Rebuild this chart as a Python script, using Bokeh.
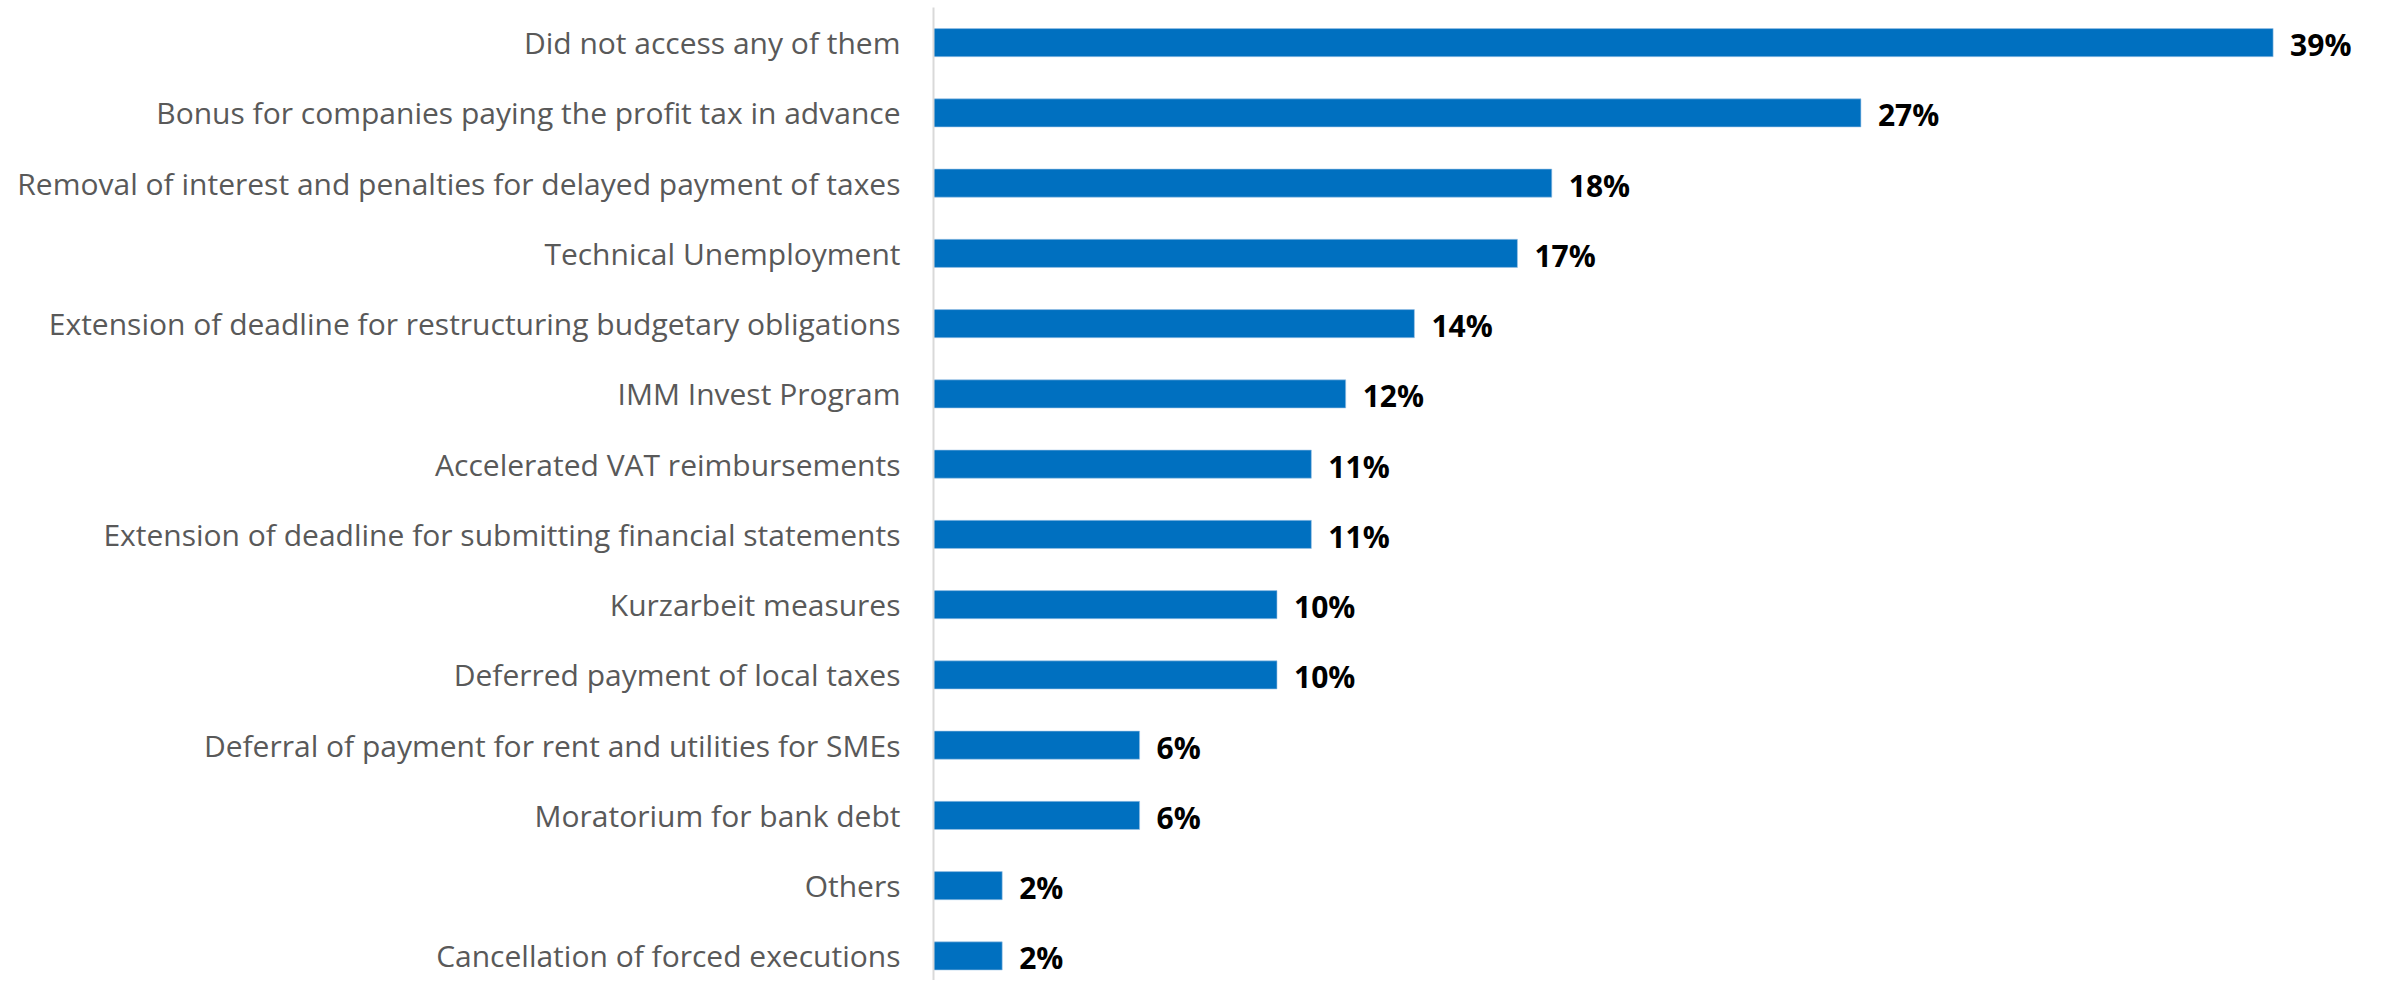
from bokeh.plotting import figure
from bokeh.models import Range1d, FixedTicker, ColumnDataSource
from bokeh.core.properties import value
from bokeh.embed import file_html
from bokeh.resources import INLINE

categories = [
    "Did not access any of them",
    "Bonus for companies paying the profit tax in advance",
    "Removal of interest and penalties for delayed payment of taxes",
    "Technical Unemployment",
    "Extension of deadline for restructuring budgetary obligations",
    "IMM Invest Program",
    "Accelerated VAT reimbursements",
    "Extension of deadline for submitting financial statements",
    "Kurzarbeit measures",
    "Deferred payment of local taxes",
    "Deferral of payment for rent and utilities for SMEs",
    "Moratorium for bank debt",
    "Others",
    "Cancellation of forced executions",
]
values = [39, 27, 18, 17, 14, 12, 11, 11, 10, 10, 6, 6, 2, 2]
value_labels = [f"{v}%" for v in values]

positions = list(range(len(categories)))
src = ColumnDataSource(dict(y=positions, v=values, lab=value_labels))

p = figure(
    width=2376, height=980,
    x_range=Range1d(0, 42.01),
    y_range=Range1d(13.35, -0.5),
    output_backend="svg", toolbar_location=None,
    min_border_left=933, min_border_right=0, min_border_top=7, min_border_bottom=0,
)
p.outline_line_color = None
p.xgrid.visible = False
p.ygrid.visible = False
p.xaxis.visible = False

p.hbar(y="y", right="v", left=0, height=0.4, source=src,
       fill_color="#0070C0", line_color="#9DC3E6", line_width=0.6)

p.text(x="v", y="y", text="lab", source=src, x_offset=17, y_offset=2,
       text_align="left", text_baseline="middle",
       text_font=value("Open Sans"), text_font_style="bold",
       text_font_size="30px", text_color="#000000")

ax = p.yaxis[0]
ax.ticker = FixedTicker(ticks=positions)
ax.major_label_overrides = {i: c for i, c in zip(positions, categories)}
ax.major_tick_line_color = None
ax.major_tick_out = 0
ax.major_tick_in = 0
ax.minor_tick_line_color = None
ax.axis_line_color = "#D9D9D9"
ax.axis_line_width = 2
ax.major_label_standoff = 33
ax.major_label_text_font = "Open Sans"
ax.major_label_text_font_size = "30px"
ax.major_label_text_color = "#595959"

open("out.html", "w").write(file_html(p, INLINE))
